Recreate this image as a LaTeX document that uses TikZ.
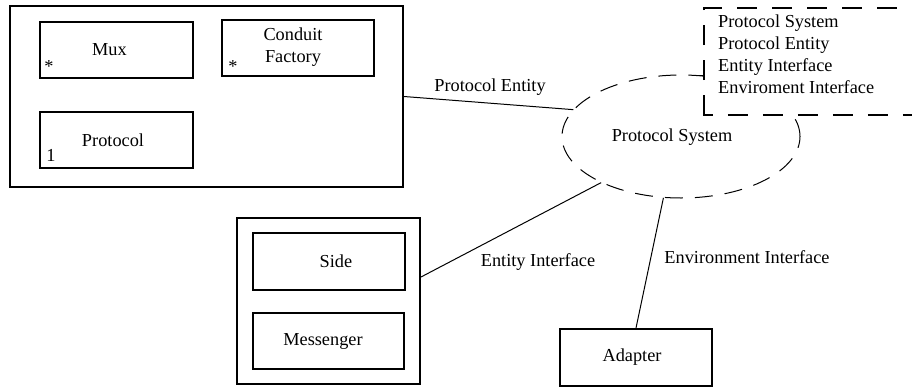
\documentclass[tikz,border=0pt]{standalone}
\usepackage{fontspec}
\setmainfont{Liberation Serif}
\usetikzlibrary{shapes.geometric}
\begin{document}
\begin{tikzpicture}[x=1pt,y=-1pt,
  every node/.style={font=\fontsize{18.3}{22}\selectfont},
  every label/.style={inner sep=0pt, align=center},
  box/.style={draw, rectangle, line width=2pt, inner sep=0pt, align=center},
  group/.style={draw, rectangle, line width=2pt, inner sep=0pt},
  system/.style={draw, ellipse, line width=1pt, dash pattern=on 18pt off 12pt,
    minimum width=238pt, minimum height=123pt, inner sep=0pt},
  legendline/.style={line width=2.5pt, dash pattern=on 20pt off 15pt},
  link/.style={line width=1pt},
  mult/.style={inner sep=0pt, anchor=base},
  caption/.style={inner sep=0pt}]
  \useasboundingbox (0,0) rectangle (912,388);
  \fill[white] (0,0) rectangle (912,388);

  % protocol entity with its parts
  \node[group, minimum width=393pt, minimum height=181pt] (entity) at (206.5,96.5) {};
  \node[box, minimum width=153pt, minimum height=56pt,
    label={[xshift=-7pt]center:Mux}] (mux) at (116.5,50) {};
  \node[box, minimum width=152pt, minimum height=56pt,
    label={[xshift=-5pt,yshift=1pt]center:Conduit\\Factory}] (factory) at (298,48) {};
  \node[box, minimum width=153pt, minimum height=56pt,
    label={[xshift=-3.5pt]center:Protocol}] (protocol) at (116.5,140) {};
  \node[mult] (muxmult) at (49,72) {*};
  \node[mult] (factorymult) at (233,72) {*};
  \node[mult] (protocolmult) at (51,161) {1};

  % entity interface
  \node[group, minimum width=183pt, minimum height=166pt] (iface) at (328.5,301) {};
  \node[box, minimum width=152pt, minimum height=57pt,
    label={[xshift=7pt]center:Side}] (side) at (329,261.5) {};
  \node[box, minimum width=151pt, minimum height=56pt,
    label={[xshift=-5.5pt]center:Messenger}] (messenger) at (328.5,341) {};

  % environment adapter
  \node[box, minimum width=152pt, minimum height=57pt,
    label={[xshift=-4pt]center:Adapter}] (adapter) at (636,357.5) {};

  % the protocol system
  \node[system, label={[xshift=-9pt,yshift=-1pt]center:Protocol System}] (ps) at (681,136.5) {};

  % note listing the parts of a system, laid over the ellipse
  \fill[white] (704,8) rectangle (912,115);
  \node[caption, align=left, anchor=north west] (legend) at (718,14.5)
    {Protocol System\\Protocol Entity\\Entity Interface\\Enviroment Interface};
  \coordinate (legendport) at (704,77);
  \draw[legendline] (704,115) -- (704,8) -- (912,8);
  \draw[legendline, dash phase=10pt] (702.75,115) -- (912,115);

  % connectors
  \draw[link] (entity.east) -- (ps.166);
  \draw[link] ([yshift=24pt]iface.east) -- (ps.210);
  \draw[link] (adapter.north) -- (ps.254);
  \draw[link] (ps.75) -- (ps.75 -| legendport);

  % connector labels
  \node[caption] (lblentity) at (490,87) {Protocol Entity};
  \node[caption] (lbliface) at (538,262) {Entity Interface};
  \node[caption] (lblenv) at (747,257) {Environment Interface};
\end{tikzpicture}
\end{document}
